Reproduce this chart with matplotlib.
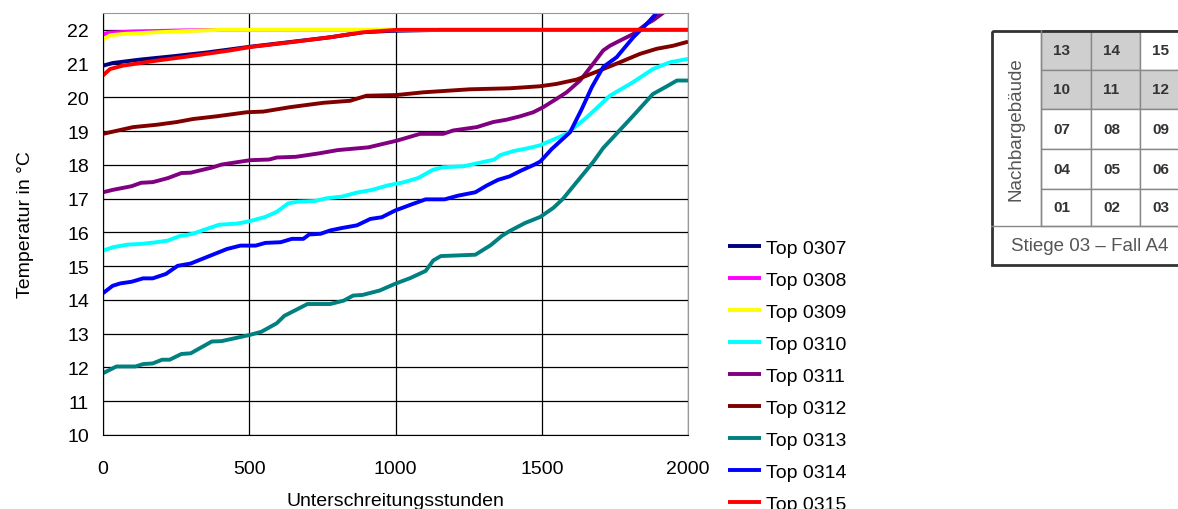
import matplotlib
matplotlib.use("Agg")
import matplotlib.pyplot as plt
from matplotlib.patches import Rectangle

plt.rcParams['font.family'] = ['Liberation Sans', 'DejaVu Sans']

# Unterschreitungsstunden (h) und Temperatur (°C)
h_0307 = [0, 34, 126, 240, 354, 502, 639, 776, 889, 981, 1100, 1150, 2000]
t_0307 = [20.94, 21.02, 21.12, 21.22, 21.33, 21.5, 21.64, 21.78, 21.93, 21.97, 21.99, 22.0, 22.0]

h_0308 = [0, 20, 100, 250, 400, 2000]
t_0308 = [21.86, 21.92, 21.95, 21.98, 22.0, 22.0]

h_0309 = [0, 25, 70, 185, 300, 400, 2000]
t_0309 = [21.72, 21.84, 21.88, 21.93, 21.97, 22.0, 22.0]

h_0310 = [0, 33, 85, 130, 183, 222, 261, 307, 346, 398, 457, 500, 555, 594, 633, 666,
          724, 763, 816, 868, 920, 972, 1025, 1077, 1129, 1162, 1233, 1286, 1338, 1358,
          1403, 1456, 1494, 1585, 1654, 1733, 1812, 1880, 1938, 2000]
t_0310 = [15.46, 15.56, 15.64, 15.66, 15.71, 15.76, 15.89, 15.96, 16.08, 16.23, 16.26, 16.33,
          16.46, 16.61, 16.86, 16.91, 16.93, 17.01, 17.06, 17.18, 17.26, 17.39, 17.48, 17.61,
          17.86, 17.93, 17.96, 18.06, 18.16, 18.29, 18.41, 18.5, 18.58, 18.92, 19.41, 20.05,
          20.45, 20.84, 21.04, 21.14]

h_0311 = [0, 33, 98, 130, 170, 222, 268, 300, 333, 372, 405, 450, 503, 568, 594, 659, 737,
          803, 907, 1005, 1084, 1163, 1197, 1278, 1334, 1380, 1426, 1471, 1505, 1551, 1585,
          1631, 1676, 1710, 1733, 1767, 1813, 1859, 1880, 1930]
t_0311 = [17.19, 17.26, 17.37, 17.47, 17.49, 17.61, 17.76, 17.77, 17.84, 17.92, 18.01, 18.07,
          18.14, 18.16, 18.22, 18.24, 18.34, 18.44, 18.52, 18.72, 18.92, 18.92, 19.02, 19.12,
          19.27, 19.34, 19.44, 19.56, 19.71, 19.96, 20.15, 20.5, 21.0, 21.39, 21.53, 21.68,
          21.88, 22.18, 22.28, 22.6]

h_0312 = [0, 103, 184, 252, 308, 389, 491, 548, 639, 753, 845, 901, 1004, 1094, 1254, 1391,
          1494, 1551, 1620, 1699, 1767, 1836, 1893, 1949, 2000]
t_0312 = [18.92, 19.12, 19.19, 19.27, 19.36, 19.44, 19.56, 19.58, 19.71, 19.84, 19.9, 20.05,
          20.07, 20.15, 20.24, 20.27, 20.33, 20.4, 20.53, 20.8, 21.04, 21.29, 21.44, 21.53, 21.65]

h_0313 = [0, 46, 111, 137, 170, 202, 228, 268, 300, 372, 405, 500, 542, 594, 620, 699, 777,
          823, 855, 888, 946, 999, 1051, 1103, 1129, 1155, 1273, 1325, 1364, 1390, 1443, 1495,
          1540, 1573, 1625, 1677, 1710, 1812, 1880, 1928, 1962, 2000]
t_0313 = [11.83, 12.03, 12.03, 12.1, 12.12, 12.23, 12.23, 12.4, 12.42, 12.77, 12.78, 12.96,
          13.06, 13.31, 13.53, 13.88, 13.88, 13.98, 14.13, 14.15, 14.28, 14.48, 14.65, 14.86,
          15.17, 15.3, 15.34, 15.62, 15.9, 16.04, 16.28, 16.46, 16.73, 17.0, 17.55, 18.1, 18.5,
          19.45, 20.1, 20.33, 20.5, 20.5]

h_0314 = [0, 33, 59, 98, 137, 170, 215, 255, 300, 346, 424, 470, 522, 555, 607, 646, 685, 705,
          744, 777, 816, 868, 914, 953, 999, 1058, 1103, 1168, 1214, 1273, 1312, 1351, 1390,
          1429, 1475, 1495, 1534, 1597, 1637, 1671, 1710, 1756, 1813, 1859, 1893, 1920]
t_0314 = [14.2, 14.42, 14.49, 14.54, 14.64, 14.64, 14.77, 15.01, 15.08, 15.24, 15.51, 15.61,
          15.61, 15.69, 15.71, 15.81, 15.81, 15.94, 15.96, 16.06, 16.13, 16.21, 16.4, 16.45,
          16.65, 16.84, 16.98, 16.98, 17.09, 17.19, 17.39, 17.56, 17.66, 17.83, 18.01, 18.1,
          18.47, 18.97, 19.66, 20.3, 20.9, 21.19, 21.78, 22.18, 22.5, 22.8]

h_0315 = [0, 24, 68, 184, 297, 434, 502, 639, 776, 889, 1004, 2000]
t_0315 = [20.65, 20.84, 20.94, 21.09, 21.22, 21.39, 21.49, 21.63, 21.78, 21.93, 22.0, 22.0]

labels = ['Top 0307', 'Top 0308', 'Top 0309', 'Top 0310', 'Top 0311',
          'Top 0312', 'Top 0313', 'Top 0314', 'Top 0315']
colors = ['#000080', '#ff00ff', '#ffff00', '#00ffff', '#800080',
          '#800000', '#008080', '#0000ff', '#ff0000']
hours = [h_0307, h_0308, h_0309, h_0310, h_0311, h_0312, h_0313, h_0314, h_0315]
temps = [t_0307, t_0308, t_0309, t_0310, t_0311, t_0312, t_0313, t_0314, t_0315]

# Gebäudeschema (Tops), grau = Nachbargebäude
cells = [['13', '14', '15'],
         ['10', '11', '12'],
         ['07', '08', '09'],
         ['04', '05', '06'],
         ['01', '02', '03']]
gray = [[True, True, False],
        [True, True, True],
        [False, False, False],
        [False, False, False],
        [False, False, False]]

W, H = 1178, 510
fig = plt.figure(figsize=(W / 100, H / 100), dpi=100)
ax = fig.add_axes([103 / W, 74 / H, 585 / W, 422 / H])

for h, t, c, lab in zip(hours, temps, colors, labels):
    ax.plot(h, t, color=c, lw=2.8, label=lab, solid_capstyle='butt')

ax.set_xlim(0, 2000)
ax.set_ylim(10, 22.5)
ax.set_xticks([0, 500, 1000, 1500, 2000])
ax.set_yticks(range(10, 23))
ax.grid(True, color='black', lw=0.9)
ax.set_axisbelow(True)
ax.tick_params(length=0, labelsize=14)
ax.tick_params(axis='x', pad=18)
ax.tick_params(axis='y', pad=10)
for s in ['top', 'right']:
    ax.spines[s].set_color('#999999')
for s in ['left', 'bottom']:
    ax.spines[s].set_color('black')
ax.set_xlabel('Unterschreitungsstunden', fontsize=14, labelpad=11)
ax.set_ylabel('Temperatur in °C', fontsize=14, labelpad=24)

ax.legend(loc='upper left', bbox_to_anchor=(728 / W, 270 / H), bbox_transform=fig.transFigure,
          frameon=False, fontsize=14, handlelength=1.7, handletextpad=0.25,
          labelspacing=0.74, borderpad=0, borderaxespad=0)

# Schema rechts oben
tx = fig.add_axes([991 / W, (H - 267) / H, 200 / W, 236 / H])
tx.set_xlim(0, 200)
tx.set_ylim(236, 0)
tx.axis('off')
col_x = [50, 100, 149, 198]
row_y = [0, 40, 79, 119, 159, 196]
for r in range(5):
    for c in range(3):
        x0 = col_x[c]
        y0 = row_y[r]
        tx.add_patch(Rectangle((x0, y0), col_x[c + 1] - x0, row_y[r + 1] - y0,
                               facecolor='#cfcfcf' if gray[r][c] else 'white',
                               edgecolor='#888888', lw=1))
        tx.text(x0 + (col_x[c + 1] - x0) / 2 - 4, (y0 + row_y[r + 1]) / 2, cells[r][c],
                ha='center', va='center', fontsize=11, fontweight='bold', color='#333333')
tx.plot([50, 50], [0, 196], color='#888888', lw=1)
tx.plot([0, 200], [196, 196], color='#888888', lw=1)
tx.add_patch(Rectangle((0.8, 0.8), 230, 234.4, facecolor='none', edgecolor='#333333', lw=2,
                       clip_on=False))
tx.text(25, 98, 'Nachbargebäude', rotation=90, ha='center', va='center', fontsize=13.5,
        color='#555555')
tx.text(99, 216, 'Stiege 03 – Fall A4', ha='center', va='center', fontsize=13.5, color='#555555')

fig.savefig('out.png', dpi=100)
